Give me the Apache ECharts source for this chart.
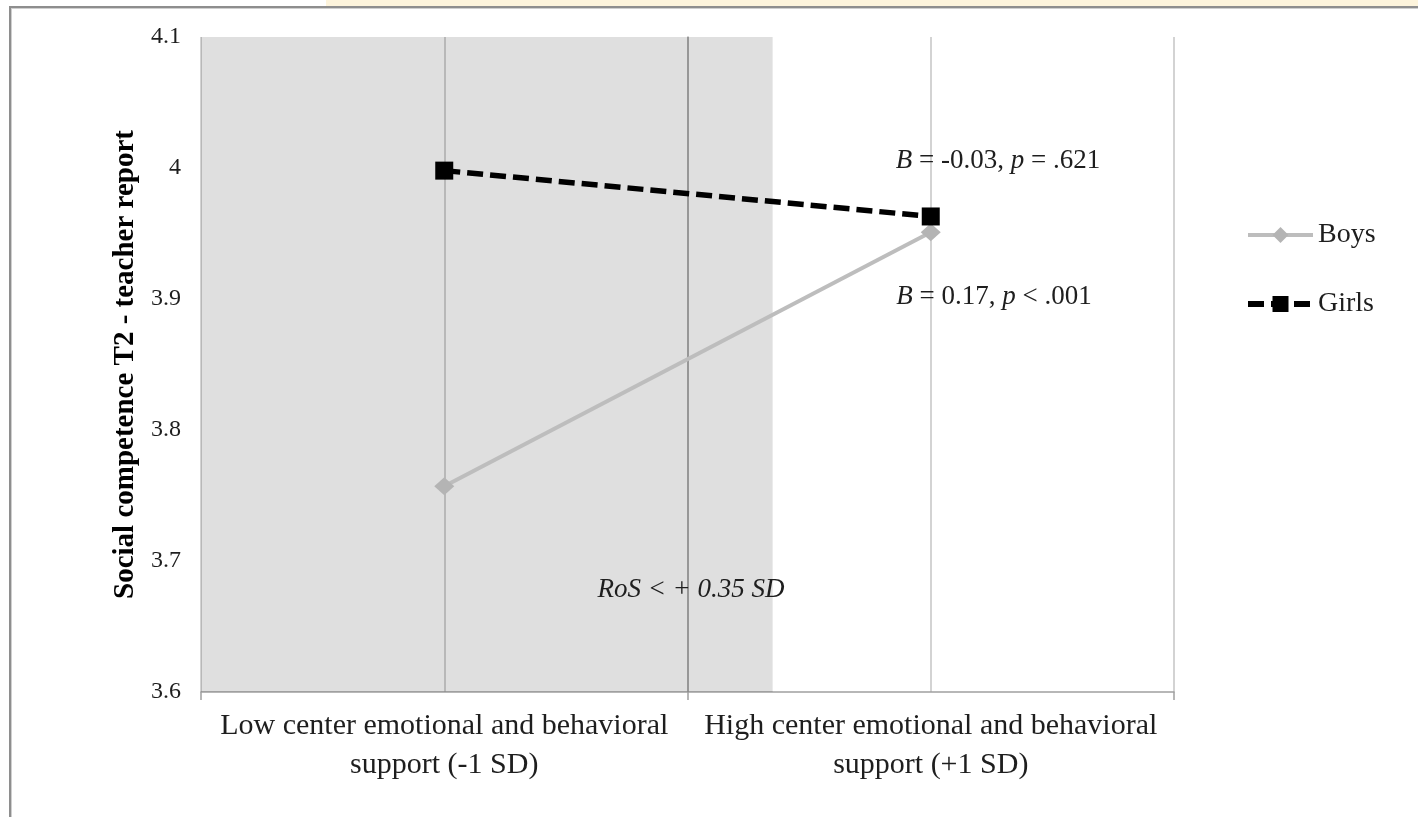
<!DOCTYPE html>
<html>
<head>
<meta charset="utf-8">
<script src="https://cdn.jsdelivr.net/npm/echarts@6/dist/echarts.min.js"></script>
<style>
  html, body { margin: 0; padding: 0; background: #fff; }
  #chart { width: 1418px; height: 817px; }
</style>
</head>
<body>
<div id="chart"></div>
<script>
// Simple-slope plot: social competence at T2 by support level, boys vs girls
const categories = [
  'Low center emotional and behavioral\nsupport (-1 SD)',
  'High center emotional and behavioral\nsupport (+1 SD)'
];
const sdLevels = [-1, 1];            // support level in SD units
const sdRange = [-2, 2];             // horizontal extent of the plot in SD units
const boys = [3.757, 3.951];
const girls = [3.998, 3.963];
const yTicks = [3.6, 3.7, 3.8, 3.9, 4.0, 4.1];
const regionOfSignificance = [-2, 0.35];   // RoS < +0.35 SD
const slopeNotes = ['{i|B} = -0.03, {i|p} = .621', '{i|B} = 0.17, {i|p} < .001'];
const rosNote = 'RoS < + 0.35 SD';

const SERIF = "'Liberation Serif', 'Times New Roman', serif";
const TEXT = '#1e1e1e';
const BOYS_COLOR = '#bdbdbd';
const GIRLS_DASH = [16, 7];

const chart = echarts.init(document.getElementById('chart'), null, { renderer: 'canvas' });

const pairs = vals => sdLevels.map((x, i) => [x, vals[i]]);

chart.setOption({
  animation: false,
  backgroundColor: '#fff',
  grid: { left: 201, right: 244, top: 37, bottom: 125 },
  xAxis: [
    {
      type: 'category',
      data: categories,
      boundaryGap: true,
      axisLine: { lineStyle: { color: '#a0a0a0', width: 1.5 } },
      axisTick: { show: true, length: 8, lineStyle: { color: '#a0a0a0', width: 1.5 } },
      axisLabel: {
        interval: 0, margin: 15, fontFamily: SERIF, fontSize: 30,
        lineHeight: 39, color: TEXT, align: 'center'
      },
      splitLine: { show: false }
    },
    {
      type: 'value',
      min: sdRange[0], max: sdRange[1], interval: 1,
      position: 'bottom',
      axisLine: { show: false },
      axisTick: { show: false },
      axisLabel: { show: false },
      splitLine: { show: true, lineStyle: { color: '#c4c4c4', width: 1.5 } }
    }
  ],
  yAxis: {
    type: 'value',
    min: yTicks[0], max: yTicks[yTicks.length - 1], interval: 0.1,
    name: 'Social competence T2 - teacher report',
    nameLocation: 'middle',
    nameGap: 58,
    nameRotate: 90,
    nameTextStyle: { fontFamily: SERIF, fontSize: 29, fontWeight: 'bold', color: '#000' },
    axisLine: { show: true, lineStyle: { color: '#a0a0a0', width: 1.5 } },
    axisTick: { show: false },
    splitLine: { show: false },
    axisLabel: {
      margin: 20, fontFamily: SERIF, fontSize: 24, color: TEXT,
      formatter: v => String(parseFloat(v.toFixed(1)))
    }
  },
  legend: {
    data: [
      { name: 'Boys', lineStyle: { width: 4, color: BOYS_COLOR } },
      { name: 'Girls', lineStyle: { width: 6, color: '#000', type: GIRLS_DASH } }
    ],
    orient: 'vertical',
    left: 1240, top: 216,
    itemWidth: 65, itemHeight: 20, itemGap: 41,
    textStyle: { fontFamily: SERIF, fontSize: 28, color: TEXT, padding: [0, 0, 0, 0] }
  },
  series: [
    {
      name: 'shade',
      type: 'line',
      xAxisIndex: 1,
      data: [],
      z: 1,
      silent: true,
      markArea: {
        silent: true,
        itemStyle: { color: 'rgba(0,0,0,0.125)' },
        data: [[{ xAxis: regionOfSignificance[0] }, { xAxis: regionOfSignificance[1] }]]
      }
    },
    {
      name: 'Boys',
      type: 'line',
      xAxisIndex: 1,
      data: pairs(boys),
      symbol: 'diamond',
      symbolSize: [20, 18],
      z: 3,
      lineStyle: { color: BOYS_COLOR, width: 4 },
      itemStyle: { color: '#b4b4b4' }
    },
    {
      name: 'Girls',
      type: 'line',
      xAxisIndex: 1,
      data: pairs(girls),
      symbol: 'rect',
      symbolSize: 18,
      z: 4,
      lineStyle: { color: '#000', width: 5.5, type: GIRLS_DASH },
      itemStyle: { color: '#000' }
    }
  ],
  graphic: [
    // page frame
    { type: 'rect', shape: { x: 326, y: 0, width: 1092, height: 6 }, style: { fill: '#fdf4dc' }, silent: true },
    { type: 'rect', shape: { x: 9, y: 6, width: 1409, height: 2 }, style: { fill: '#8e8e8e' }, silent: true },
    { type: 'rect', shape: { x: 9, y: 8, width: 1409, height: 1 }, style: { fill: '#cfcfcf' }, silent: true },
    { type: 'rect', shape: { x: 9, y: 6, width: 2, height: 811 }, style: { fill: '#8e8e8e' }, silent: true },
    { type: 'rect', shape: { x: 11, y: 8, width: 1, height: 809 }, style: { fill: '#cfcfcf' }, silent: true },
    // slope annotations
    {
      type: 'text', x: 998, y: 161, z: 10,
      style: {
        text: slopeNotes[0], align: 'center', verticalAlign: 'middle',
        fontFamily: SERIF, fontSize: 27, fill: TEXT,
        rich: { i: { fontStyle: 'italic', fontFamily: SERIF, fontSize: 27, fill: TEXT } }
      }
    },
    {
      type: 'text', x: 994, y: 297, z: 10,
      style: {
        text: slopeNotes[1], align: 'center', verticalAlign: 'middle',
        fontFamily: SERIF, fontSize: 27, fill: TEXT,
        rich: { i: { fontStyle: 'italic', fontFamily: SERIF, fontSize: 27, fill: TEXT } }
      }
    },
    {
      type: 'text', x: 691, y: 590, z: 10,
      style: {
        text: rosNote, align: 'center', verticalAlign: 'middle',
        fontFamily: SERIF, fontSize: 27, fontStyle: 'italic', fill: TEXT
      }
    }
  ]
});
</script>
</body>
</html>
